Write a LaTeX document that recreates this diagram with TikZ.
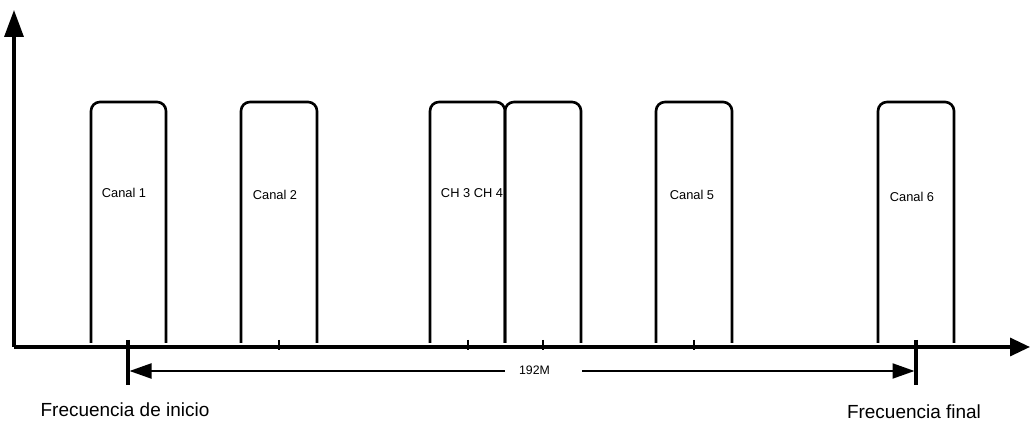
\documentclass[tikz,border=0pt]{standalone}
\usepackage{fontspec}
\setmainfont{Liberation Sans}
\usetikzlibrary{arrows.meta}
\tikzset{
  axisline/.style={line width=1.9pt},
  chan/.style={line width=1.5pt, rounded corners=0.18cm},
  chlabel/.style={font=\fontsize{7.3}{9}\selectfont, inner sep=0pt},
  freqlabel/.style={font=\fontsize{10.8}{13}\selectfont, inner sep=0pt},
  marker/.style={line width=1.8pt},
  smalltick/.style={line width=1.2pt},
  dimline/.style={line width=1.2pt}
}

\begin{document}
\begin{tikzpicture}
\useasboundingbox (-0.28,-1.58) rectangle (20.36,6.94);
% axes
\draw[axisline, -{Triangle[length=0.54cm, width=0.38cm]}] (0,0) -- (0,6.74);
\draw[axisline, -{Triangle[length=0.4cm, width=0.36cm]}] (0,0) -- (20.32,0);
% channels
\draw[chan] (1.54,0.08) |- (3.04,4.9) -- (3.04,0.08);
\draw[chan] (4.54,0.08) |- (6.06,4.9) -- (6.06,0.08);
\draw[chan] (8.32,0.08) |- (9.82,4.9) -- (9.82,0.08);
\draw[chan] (9.82,0.08) |- (11.34,4.9) -- (11.34,0.08);
\draw[chan] (12.84,0.08) |- (14.36,4.9) -- (14.36,0.08);
\draw[chan] (17.28,0.08) |- (18.8,4.9) -- (18.8,0.08);
\node[chlabel] (c1) at (2.2,3.08) {Canal 1};
\node[chlabel] (c2) at (5.22,3.04) {Canal 2};
\node[chlabel] (c34) at (9.16,3.08) {CH 3 CH 4};
\node[chlabel] (c5) at (13.56,3.04) {Canal 5};
\node[chlabel] (c6) at (17.96,3.0) {Canal 6};
% centre ticks
\draw[smalltick] (5.3,0.14) -- (5.3,-0.06);
\draw[smalltick] (9.08,0.14) -- (9.08,-0.06);
\draw[smalltick] (10.58,0.14) -- (10.58,-0.06);
\draw[smalltick] (13.6,0.14) -- (13.6,-0.06);
% start / end markers
\coordinate (fstart) at (2.28,0);
\coordinate (fend) at (18.04,0);
\draw[marker] ([yshift=0.14cm]fstart) -- ([yshift=-0.76cm]fstart);
\draw[marker] ([yshift=0.14cm]fend) -- ([yshift=-0.76cm]fend);
% bandwidth
\node[chlabel, font=\fontsize{7}{9}\selectfont] (bw) at (10.41,-0.46) {192M};
\draw[dimline, {Triangle[length=0.44cm, width=0.3cm]}-, shorten <=0.03cm]
  (fstart |- 0,-0.48) -- ([xshift=-0.28cm]bw.west |- 0,-0.48);
\draw[dimline, -{Triangle[length=0.44cm, width=0.3cm]}, shorten >=0.03cm]
  ([xshift=0.64cm]bw.east |- 0,-0.48) -- (fend |- 0,-0.48);
\node[freqlabel] (fs) at (2.22,-1.26) {Frecuencia de inicio};
\node[freqlabel] (fe) at (18.0,-1.3) {Frecuencia final};
\end{tikzpicture}
\end{document}
